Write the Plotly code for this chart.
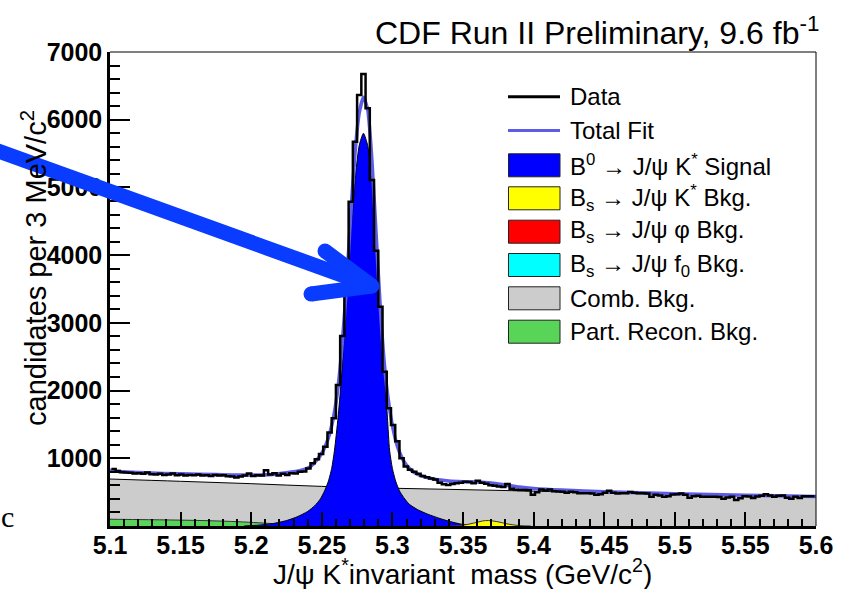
import plotly.graph_objects as go

# ---------------- data ----------------
bin_start = 5.101
bin_width = 0.003
data_counts = [
    840, 812, 795, 790, 785, 775, 780, 770, 790, 765,
    760, 770, 755, 760, 775, 750, 760, 745, 755, 750,
    760, 745, 750, 740, 755, 745, 750, 735, 730, 715,
    730, 745, 775, 740, 750, 745, 825, 760, 780, 745,
    770, 755, 780, 775, 800, 805, 851, 925, 984, 1063,
    1172, 1379, 1591, 2082, 2806, 3437, 4790, 5676, 6366, 6676,
    6169, 5110, 4066, 3239, 2279, 1738, 1492, 1250, 1000, 880,
    830, 800, 770, 740, 720, 700, 685, 640, 615, 605,
    620, 630, 640, 655, 650, 630, 670, 640, 625, 600,
    595, 585, 575, 620, 550, 535, 532, 530, 528, 460,
    500, 540, 525, 540, 515, 510, 505, 492, 505, 500,
    485, 485, 483, 480, 460, 470, 490, 520, 490, 480,
    483, 483, 502, 490, 483, 483, 480, 433, 460, 450,
    433, 440, 465, 470, 480, 460, 418, 440, 445, 433,
    433, 433, 433, 430, 404, 420, 433, 384, 410, 440,
    435, 415, 435, 445, 468, 450, 433, 445, 450, 418,
    404, 433, 415, 440, 440, 440,
]

fit_mass = [5.100, 5.110, 5.125, 5.150, 5.175, 5.200, 5.215, 5.225, 5.235, 5.2405,
            5.2435, 5.2465, 5.2495, 5.2525, 5.2555, 5.2585, 5.2615, 5.2645, 5.2675, 5.2705,
            5.2735, 5.2765, 5.2795, 5.2825, 5.2855, 5.2885, 5.2915, 5.2945, 5.2975, 5.3005,
            5.3035, 5.3065, 5.3095, 5.3125, 5.3155, 5.320, 5.330, 5.340, 5.350, 5.360,
            5.370, 5.380, 5.390, 5.400, 5.420, 5.450, 5.500, 5.550, 5.600]
fit_vals = [825, 800, 785, 770, 760, 752, 760, 785, 820, 860,
            905, 975, 1060, 1180, 1360, 1630, 2050, 2700, 3550, 4600,
            5500, 6100, 6330, 6150, 5400, 4300, 3200, 2350, 1800, 1430,
            1180, 1020, 910, 840, 790, 745, 690, 665, 655, 650,
            635, 605, 575, 555, 530, 505, 478, 455, 435]

sig_mass = [5.195, 5.205, 5.215, 5.225, 5.233, 5.240, 5.245, 5.249, 5.252, 5.2545,
            5.257, 5.259, 5.2615, 5.2636, 5.266, 5.268, 5.271, 5.274, 5.2765, 5.2795,
            5.2825, 5.285, 5.288, 5.2907, 5.293, 5.295, 5.2965, 5.298, 5.300, 5.3025,
            5.305, 5.308, 5.312, 5.318, 5.325, 5.333, 5.341, 5.348, 5.356, 5.365]
sig_vals = [0, 12, 35, 80, 140, 215, 300, 400, 520, 650,
            850, 1120, 1600, 2107, 2850, 3584, 4450, 5200, 5620, 5800,
            5620, 5200, 4450, 3584, 2850, 2107, 1600, 1120, 850, 650,
            520, 420, 320, 240, 175, 115, 65, 30, 10, 0]

comb_mass = [5.10, 5.15, 5.20, 5.25, 5.30, 5.35, 5.40, 5.45, 5.50, 5.55, 5.60]
comb_vals = [694, 660, 625, 585, 558, 537, 515, 492, 470, 450, 430]

prec_mass = [5.100, 5.120, 5.150, 5.170, 5.190, 5.205, 5.215, 5.225, 5.235, 5.245]
prec_vals = [100, 95, 87, 78, 64, 48, 35, 20, 8, 0]

bsk_mass = [5.340, 5.350, 5.358, 5.366, 5.374, 5.382, 5.390, 5.398]
bsk_vals = [0, 12, 45, 80, 65, 28, 6, 0]

x_ticks = [5.1, 5.15, 5.2, 5.25, 5.3, 5.35, 5.4, 5.45, 5.5, 5.55, 5.6]
x_tick_labels = ["5.1", "5.15", "5.2", "5.25", "5.3", "5.35", "5.4", "5.45", "5.5", "5.55", "5.6"]
y_ticks = [1000, 2000, 3000, 4000, 5000, 6000, 7000]
y_tick_labels = ["1000", "2000", "3000", "4000", "5000", "6000", "7000"]

legend_labels = [
    "Data",
    "Total Fit",
    "B<sup>0</sup> → J/ψ K<sup>*</sup> Signal",
    "B<sub>s</sub> → J/ψ K<sup>*</sup> Bkg.",
    "B<sub>s</sub> → J/ψ φ Bkg.",
    "B<sub>s</sub> → J/ψ f<sub>0</sub> Bkg.",
    "Comb. Bkg.",
    "Part. Recon. Bkg.",
]
legend_kinds = ["line", "line", "box", "box", "box", "box", "box", "box"]
legend_colors = ["black", "#5c5ce6", "#0000ff", "#ffff00", "#ff0000", "#00ffff", "#cccccc", "#58d558"]

# ---------------- layout geometry (pixels) ----------------
W, H = 844, 589
L, R, T, B = 110, 28, 52, 63
PW, PH = W - L - R, H - T - B
FONT = "Liberation Sans, Arial, Helvetica, sans-serif"


def px(xp):
    return (xp - L) / PW


def py(yp):
    return (H - B - yp) / PH


fig = go.Figure()

fig.add_trace(go.Scatter(x=comb_mass, y=comb_vals, mode="lines", fill="tozeroy",
                         fillcolor="#cccccc", line=dict(color="black", width=1, shape="spline"),
                         showlegend=False))
fig.add_trace(go.Scatter(x=prec_mass, y=prec_vals, mode="lines", fill="tozeroy",
                         fillcolor="#58d558", line=dict(color="#333333", width=1, shape="spline"),
                         showlegend=False))
fig.add_trace(go.Scatter(x=sig_mass, y=sig_vals, mode="lines", fill="tozeroy",
                         fillcolor="#0000ff", line=dict(color="black", width=1, shape="spline", smoothing=0.6),
                         showlegend=False))
fig.add_trace(go.Scatter(x=bsk_mass, y=bsk_vals, mode="lines", fill="tozeroy",
                         fillcolor="#ffff00", line=dict(color="#333333", width=1, shape="spline"),
                         showlegend=False))
fig.add_trace(go.Scatter(x=fit_mass, y=fit_vals, mode="lines",
                         line=dict(color="#5c5ce6", width=3.5, shape="spline", smoothing=0.6),
                         showlegend=False))

edges = [bin_start + bin_width * k for k in range(len(data_counts) + 1)]
fig.add_trace(go.Scatter(x=edges, y=data_counts + [data_counts[-1]], mode="lines",
                         line=dict(color="black", width=2.5, shape="hv"), showlegend=False))

shapes = []
annotations = []

# frame (thin top / right)
shapes.append(dict(type="line", xref="paper", yref="paper", x0=0, x1=1, y0=1, y1=1,
                   line=dict(color="black", width=1)))
shapes.append(dict(type="line", xref="paper", yref="paper", x0=1, x1=1, y0=0, y1=1,
                   line=dict(color="black", width=1)))

# manual legend
row_y = [96.7, 130.5, 165.3, 198.3, 231.7, 265.0, 298.3, 331.7]
for lab, kind, col, yy in zip(legend_labels, legend_kinds, legend_colors, row_y):
    if kind == "line":
        shapes.append(dict(type="line", xref="paper", yref="paper", x0=px(508), x1=px(560),
                           y0=py(yy), y1=py(yy), line=dict(color=col, width=3)))
    else:
        shapes.append(dict(type="rect", xref="paper", yref="paper", x0=px(508.5), x1=px(560),
                           y0=py(yy + 11.5), y1=py(yy - 11.5), fillcolor=col,
                           line=dict(color="#222222", width=1)))
    annotations.append(dict(x=px(568), y=py(yy), xref="paper", yref="paper", text=lab,
                            showarrow=False, xanchor="left", yanchor="middle",
                            font=dict(family=FONT, size=24, color="black")))

# blue arrow
AC = "#0a3cff"
AW = 15
tip = (372, 286)
shapes.append(dict(type="line", xref="paper", yref="paper", x0=px(-10), y0=py(148),
                   x1=px(tip[0]), y1=py(tip[1]), line=dict(color=AC, width=AW), layer="above"))
for wx, wy in [(325, 251), (311, 294)]:
    shapes.append(dict(type="line", xref="paper", yref="paper", x0=px(wx), y0=py(wy),
                       x1=px(tip[0]), y1=py(tip[1]), line=dict(color=AC, width=AW), layer="above"))
    shapes.append(dict(type="circle", xref="paper", yref="paper", xsizemode="pixel", ysizemode="pixel",
                       xanchor=px(wx), yanchor=py(wy), x0=-AW / 2, x1=AW / 2, y0=-AW / 2, y1=AW / 2,
                       fillcolor=AC, line=dict(width=0), layer="above"))
shapes.append(dict(type="circle", xref="paper", yref="paper", xsizemode="pixel", ysizemode="pixel",
                   xanchor=px(tip[0]), yanchor=py(tip[1]), x0=-AW / 2, x1=AW / 2, y0=-AW / 2, y1=AW / 2,
                   fillcolor=AC, line=dict(width=0), layer="above"))

# title
annotations.append(dict(x=px(821), y=py(31), xref="paper", yref="paper",
                        text="CDF Run II Preliminary, 9.6 fb<sup>-1</sup>", showarrow=False,
                        xanchor="right", yanchor="middle", font=dict(family=FONT, size=32, color="black")))
# axis titles
annotations.append(dict(x=px(462), y=py(572), xref="paper", yref="paper",
                        text="J/ψ K<sup>*</sup>invariant  mass (GeV/c<sup>2</sup>)", showarrow=False,
                        xanchor="center", yanchor="middle", font=dict(family=FONT, size=28, color="black")))
annotations.append(dict(x=px(34), y=py(268), xref="paper", yref="paper",
                        text="candidates per 3 MeV/c<sup>2</sup>", showarrow=False, textangle=-90,
                        xanchor="center", yanchor="middle", font=dict(family=FONT, size=29, color="black")))
# stray glyph at lower left
annotations.append(dict(x=px(7), y=py(516), xref="paper", yref="paper", text="c", showarrow=False,
                        xanchor="center", yanchor="middle",
                        font=dict(family="Liberation Serif, DejaVu Serif, serif", size=30, color="black")))

fig.update_xaxes(range=[5.1, 5.6], tickvals=x_ticks, ticktext=x_tick_labels,
                 ticks="inside", ticklen=14, tickwidth=2, tickcolor="black", ticklabelstandoff=-5,
                 minor=dict(ticks="inside", tick0=5.1, dtick=0.01, ticklen=7, tickwidth=1.5, tickcolor="black"),
                 showline=True, linewidth=2.5, linecolor="black", showgrid=False, zeroline=False,
                 tickfont=dict(family=FONT, size=25, color="black", weight="bold"))
fig.update_yaxes(range=[0, 7000], tickvals=y_ticks, ticktext=y_tick_labels,
                 ticks="inside", ticklen=20, tickwidth=2, tickcolor="black",
                 minor=dict(ticks="inside", tick0=0, dtick=200, ticklen=10, tickwidth=1.5, tickcolor="black"),
                 showline=True, linewidth=2.5, linecolor="black", showgrid=False, zeroline=False,
                 tickfont=dict(family=FONT, size=25, color="black", weight="bold"))

fig.update_layout(width=W, height=H, autosize=False,
                  margin=dict(l=L, r=R, t=T, b=B, pad=0),
                  paper_bgcolor="white", plot_bgcolor="white",
                  shapes=shapes, annotations=annotations, showlegend=False)

fig.write_html("out.html")
